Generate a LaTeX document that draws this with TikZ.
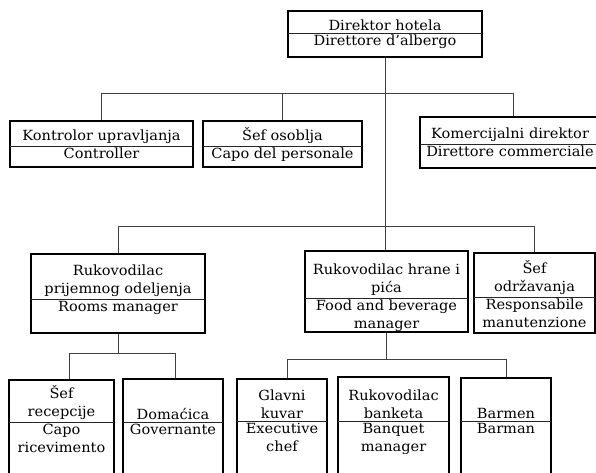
\documentclass[tikz,border=0pt]{standalone}
\usepackage{fontspec}
\setmainfont[FakeStretch=1.04]{DejaVu Serif}
\begin{document}
\begin{tikzpicture}[x=1pt,y=-1pt,
  orgframe/.style={draw=black,line width=1.8pt,inner sep=0pt},
  divider/.style={draw=black!85,line width=0.8pt},
  conn/.style={draw=black!75,line width=0.9pt},
  lbl/.style={font=\fontsize{14}{18}\selectfont,align=center,inner sep=0pt,text=black}]
\useasboundingbox (0,0) rectangle (596,473);
\clip (0,0) rectangle (596,473);
\fill[white] (0,0) rectangle (596,473);

% \orgbox{name}{x1}{y1}{x2}{y2}{divider y}{upper text}{lower text}
\newcommand{\orgbox}[8]{%
  \node[orgframe,minimum width={#4-#2},minimum height={#5-#3}]
    (#1) at ({(#2+#4)/2},{(#3+#5)/2}) {};
  \draw[divider] (#2,#6) -- (#4,#6);
  \node[lbl,anchor=south] (#1-up) at ({(#2+#4)/2},{#6-2.5}) {#7};
  \node[lbl,anchor=north] (#1-lo) at ({(#2+#4)/2},{#6+2}) {#8};
}

\orgbox{dir}{288}{11}{482}{57}{33}{Direktor hotela}{Direttore d'albergo}
\orgbox{kon}{10}{121}{193}{167}{146}{Kontrolor upravljanja}{Controller}
\orgbox{sef}{203}{121}{362}{167}{146}{Šef osoblja}{Capo del personale}
\orgbox{kom}{420}{117}{600}{168}{144}{Komercijalni direktor}{Direttore commerciale}
\orgbox{rec}{31}{254}{205}{333}{299}{Rukovodilac\\prijemnog odeljenja}{Rooms manager}
\orgbox{hra}{305}{251}{468}{332}{298}{Rukovodilac hrane i\\pića}{Food and beverage\\manager}
\orgbox{odr}{474}{253}{595}{333}{297}{Šef\\održavanja}{Responsabile\\manutenzione}
\orgbox{cap}{9}{380}{114}{495}{422}{Šef\\recepcije}{Capo\\ricevimento}
\orgbox{dom}{123}{379}{223}{495}{422}{Domaćica}{Governante}
\orgbox{kuv}{237}{379}{327}{495}{421}{Glavni\\kuvar}{Executive\\chef}
\orgbox{ban}{338}{377}{449}{495}{421}{Rukovodilac\\banketa}{Banquet\\manager}
\orgbox{bar}{461}{378}{551}{495}{421}{Barmen}{Barman}

% first level
\draw[conn] (dir.south) -- ++(0,36) coordinate (t1);
\draw[conn] (t1) -| (kon.north);
\draw[conn] (t1) -| (sef.north);
\draw[conn] (t1) -| ([xshift=3pt]kom.north);
% trunk down to the operating departments
\coordinate (t2) at (t1 |- 0,226);
\draw[conn] (t1) -- (t2);
\draw[conn] (t2) -| (rec.north);
\draw[conn] (t2) -| (odr.north);
\draw[conn] (t2) -- (t2 |- hra.north);
% rooms division
\draw[conn] (rec.south) -- ++(0,20) coordinate (t3);
\draw[conn] (t3) -| ([xshift=7.5pt]cap.north);
\draw[conn] (t3) -| ([xshift=2pt]dom.north);
% food and beverage division
\draw[conn] (hra.south) -- ++(0,27) coordinate (t4);
\draw[conn] (t4) -| ([xshift=5pt]kuv.north);
\draw[conn] (t4) -| (bar.north);
\end{tikzpicture}
\end{document}
